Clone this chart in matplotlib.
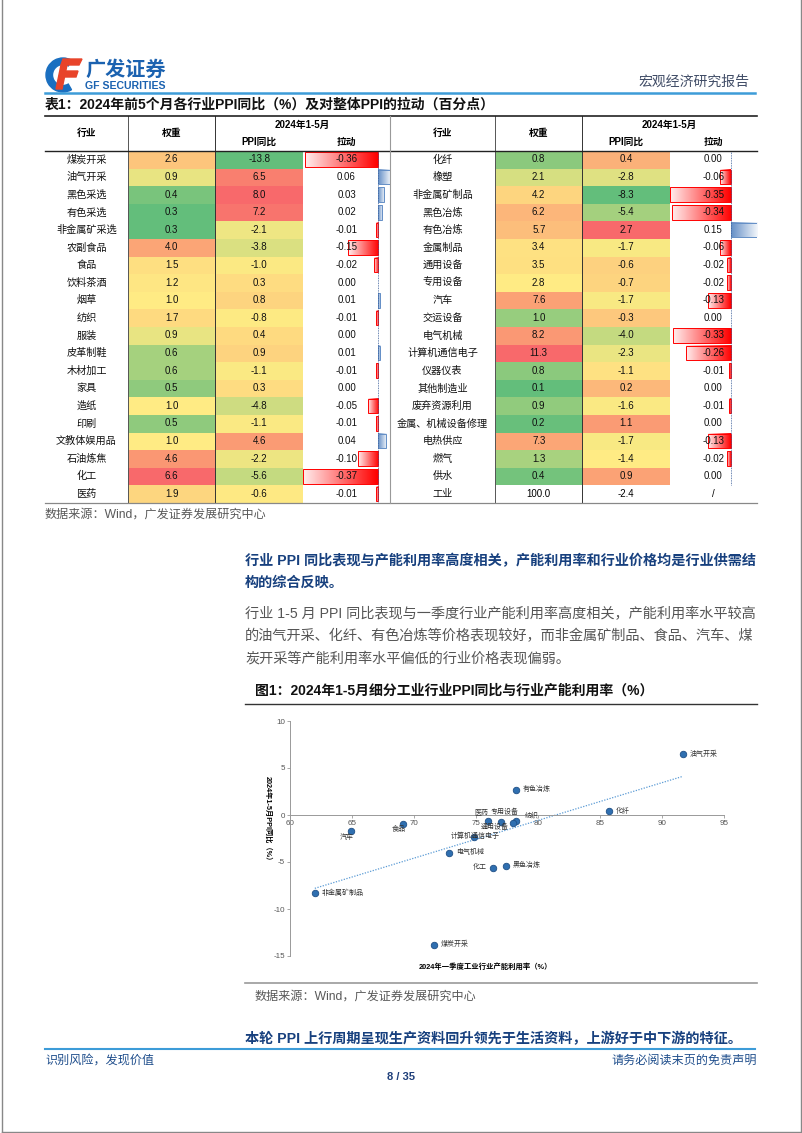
import numpy as np
from matplotlib import pyplot as plt
from matplotlib.patches import Wedge, Polygon, Rectangle

plt.rcParams['font.family'] = ['Liberation Sans', 'Noto Sans CJK SC']
plt.rcParams['axes.unicode_minus'] = False

W, H = 802, 1133

# 表1 左半
left_names = ['煤炭开采', '油气开采', '黑色采选', '有色采选', '非金属矿采选', '农副食品',
              '食品', '饮料茶酒', '烟草', '纺织', '服装', '皮革制鞋', '木材加工', '家具',
              '造纸', '印刷', '文教体娱用品', '石油炼焦', '化工', '医药']
left_weight = [2.6, 0.9, 0.4, 0.3, 0.3, 4.0, 1.5, 1.2, 1.0, 1.7, 0.9, 0.6, 0.6, 0.5,
               1.0, 0.5, 1.0, 4.6, 6.6, 1.9]
left_ppi = [-13.8, 6.5, 8.0, 7.2, -2.1, -3.8, -1.0, 0.3, 0.8, -0.8, 0.4, 0.9, -1.1, 0.3,
            -4.8, -1.1, 4.6, -2.2, -5.6, -0.6]
left_pull = [-0.36, 0.06, 0.03, 0.02, -0.01, -0.15, -0.02, 0.00, 0.01, -0.01, 0.00, 0.01,
             -0.01, 0.00, -0.05, -0.01, 0.04, -0.10, -0.37, -0.01]

# 表1 右半
right_names = ['化纤', '橡塑', '非金属矿制品', '黑色冶炼', '有色冶炼', '金属制品', '通用设备',
               '专用设备', '汽车', '交运设备', '电气机械', '计算机通信电子', '仪器仪表',
               '其他制造业', '废弃资源利用', '金属、机械设备修理', '电热供应', '燃气', '供水']
right_weight = [0.8, 2.1, 4.2, 6.2, 5.7, 3.4, 3.5, 2.8, 7.6, 1.0, 8.2, 11.3, 0.8, 0.1, 0.9,
                0.2, 7.3, 1.3, 0.4]
right_ppi = [0.4, -2.8, -8.3, -5.4, 2.7, -1.7, -0.6, -0.7, -1.7, -0.3, -4.0, -2.3, -1.1,
             0.2, -1.6, 1.1, -1.7, -1.4, 0.9]
right_pull = [0.00, -0.06, -0.35, -0.34, 0.15, -0.06, -0.02, -0.02, -0.13, 0.00, -0.33,
              -0.26, -0.01, 0.00, -0.01, 0.00, -0.13, -0.02, 0.00]
total_row = ('工业', 100.0, -2.4, '/')

# 图1 散点
scat_names = ['油气开采', '有色冶炼', '化纤', '汽车', '食品', '医药', '专用设备', '通用设备',
              '纺织', '计算机通信电子', '电气机械', '化工', '黑色冶炼', '非金属矿制品', '煤炭开采']
scat_util = [91.7, 78.2, 85.7, 64.9, 69.1, 76.0, 77.0, 78.2, 78.0, 74.8, 72.8, 76.4, 77.4,
             62.0, 71.6]
scat_ppi = [6.5, 2.7, 0.4, -1.7, -1.0, -0.6, -0.7, -0.6, -0.8, -2.3, -4.0, -5.6, -5.4,
            -8.3, -13.8]
# 标签偏移 (points) 与对齐
label_pos = [(5, 0, 'left'), (5, 0, 'left'), (5, 0, 'left'), (-3, -5, 'center'),
             (-3, -4, 'center'), (-5, 6, 'center'), (3, 7, 'center'), (-15, -5, 'center'),
             (8, 5, 'left'), (1, 0, 'center'), (5, 0, 'left'), (-5, 0, 'right'),
             (5, 0, 'left'), (5, 0, 'left'), (5, 0, 'left')]

GREEN = np.array([99, 190, 123]) / 255
YELLOW = np.array([255, 235, 132]) / 255
RED = np.array([248, 105, 107]) / 255
BAR_RED = np.array([1.0, 0.0, 0.0])
BAR_BLUE = np.array([99, 142, 198]) / 255

TOP, HEAD_BOTTOM, ROW_H, N_ROWS = 116, 150.7, 17.6, 20
BODY_BOTTOM = HEAD_BOTTOM + N_ROWS * ROW_H
BLUE_TEXT = '#17407e'


def frac(x0, y0, x1, y1):
    return [x0 / W, 1 - y1 / H, (x1 - x0) / W, (y1 - y0) / H]


def scale3(vals):
    vals = np.asarray(vals, float)
    lo, mid, hi = vals.min(), np.percentile(vals, 50), vals.max()
    out = []
    for v in vals:
        if v <= mid:
            t = (v - lo) / (mid - lo)
            out.append(GREEN + t * (YELLOW - GREEN))
        else:
            t = (v - mid) / (hi - mid)
            out.append(YELLOW + t * (RED - YELLOW))
    return np.array(out)


fig = plt.figure(figsize=(W / 100, H / 100), dpi=100)
page = fig.add_axes([0, 0, 1, 1], zorder=10)
page.set_xlim(0, W)
page.set_ylim(H, 0)
page.axis('off')


def draw_table(cols, names, weight, ppi, pull, total=None):
    colors = np.ones((N_ROWS, 2, 3))
    colors[:len(names), 0] = scale3(weight)
    colors[:len(names), 1] = scale3(ppi)
    ax_h = fig.add_axes(frac(cols[1], HEAD_BOTTOM, cols[3], BODY_BOTTOM))
    ax_h.imshow(colors, aspect='auto', interpolation='nearest',
                extent=(-0.5, 1.5, N_ROWS - 0.5, -0.5))
    for i, (w, p) in enumerate(zip(weight, ppi)):
        ax_h.text(0, i, f'{w:.1f}', ha='center', va='center', fontsize=7, color='#111')
        ax_h.text(1, i, f'{p:.1f}', ha='center', va='center', fontsize=7, color='#111')
    if total:
        ax_h.text(0, N_ROWS - 1, f'{total[1]:.1f}', ha='center', va='center', fontsize=7)
        ax_h.text(1, N_ROWS - 1, f'{total[2]:.1f}', ha='center', va='center', fontsize=7)
    ax_h.set_xlim(-0.5, 1.5)
    ax_h.set_ylim(N_ROWS - 0.5, -0.5)
    ax_h.axis('off')

    ax_b = fig.add_axes(frac(cols[3], HEAD_BOTTOM, cols[4], BODY_BOTTOM))
    t = np.linspace(0, 0.93, 64)[:, None]
    for i, v in enumerate(pull):
        if v != 0:
            base = BAR_RED if v < 0 else BAR_BLUE
            grad = base * (1 - t) + t
            ax_b.imshow(grad[None], aspect='auto', interpolation='bilinear',
                        extent=(0, v, i + 0.42, i - 0.42))
            ax_b.add_patch(Rectangle((0, i - 0.42), v, 0.84, fill=False, ec=base, lw=0.7))
        ax_b.text(0.5, i, f'{v:.2f}', transform=ax_b.get_yaxis_transform(),
                  ha='center', va='center', fontsize=7, color='#111', zorder=5)
    if total:
        ax_b.text(0.5, N_ROWS - 1, total[3], transform=ax_b.get_yaxis_transform(),
                  ha='center', va='center', fontsize=7)
    ax_b.plot([0, 0], [-0.5, len(pull) - 0.5], ls=(0, (1, 1)), color='#3b5f9a', lw=0.6)
    ax_b.set_xlim(min(pull), max(pull))
    ax_b.set_ylim(N_ROWS - 0.5, -0.5)
    ax_b.axis('off')

    all_names = names + ([total[0]] if total else [])
    for i, name in enumerate(all_names):
        page.text((cols[0] + cols[1]) / 2, HEAD_BOTTOM + (i + 0.5) * ROW_H, name,
                  ha='center', va='center', fontsize=7.3, color='#111')

    # 表头
    hy = (TOP + HEAD_BOTTOM) / 2
    page.text((cols[0] + cols[1]) / 2, hy, '行业', ha='center', va='center',
              fontsize=7, fontweight='bold')
    page.text((cols[1] + cols[2]) / 2, hy, '权重', ha='center', va='center',
              fontsize=7, fontweight='bold')
    page.text((cols[2] + cols[4]) / 2, 125, '2024年1-5月', ha='center', va='center',
              fontsize=7, fontweight='bold')
    page.text((cols[2] + cols[3]) / 2, 142, 'PPI同比', ha='center', va='center',
              fontsize=7, fontweight='bold')
    page.text((cols[3] + cols[4]) / 2, 142, '拉动', ha='center', va='center',
              fontsize=7, fontweight='bold')
    for x, c in [(cols[1], '#555'), (cols[2], '#333')]:
        page.plot([x, x], [TOP, BODY_BOTTOM], color=c, lw=0.7)


L_COLS = [45, 128, 215, 303, 390]
R_COLS = [390, 495, 582, 670, 757]
draw_table(L_COLS, left_names, left_weight, left_ppi, left_pull)
draw_table(R_COLS, right_names, right_weight, right_ppi, right_pull, total_row)

page.plot([45, 757], [TOP, TOP], color='#222', lw=1.2)
page.plot([45, 757], [HEAD_BOTTOM, HEAD_BOTTOM], color='#222', lw=1.0)
page.plot([45, 757], [BODY_BOTTOM, BODY_BOTTOM], color='#888', lw=0.9)
page.plot([390, 390], [TOP, BODY_BOTTOM], color='#999', lw=0.8)

# 页眉
page.add_patch(Wedge((63, 75), 17, 60, 300, width=6.5, color='#1a6fc0'))
page.add_patch(Polygon([(63, 59), (82, 59), (79, 65), (61, 65)], color='#e8442a'))
page.add_patch(Polygon([(61, 65), (67, 65), (62, 89), (56, 89)], color='#e8442a'))
page.add_patch(Polygon([(64, 71), (78, 71), (76, 77), (62, 77)], color='#e8442a'))
page.text(85, 70, '广发证券', fontsize=14.5, fontweight='bold', color='#1b62b0',
          ha='left', va='center')
page.text(85, 86, 'GF SECURITIES', fontsize=7.6, fontweight='bold', color='#1b62b0',
          ha='left', va='center')
page.text(749, 82, '宏观经济研究报告', fontsize=10, color='#404c66', ha='right', va='center')
page.plot([45, 755], [92.5, 92.5], color='#3d9cd8', lw=1.8)

page.text(45, 104.5, '表1：2024年前5个月各行业PPI同比（%）及对整体PPI的拉动（百分点）',
          fontsize=10, fontweight='bold', ha='left', va='center', color='#111')
page.text(45, 515, '数据来源：Wind，广发证券发展研究中心', fontsize=8.7, color='#595959',
          ha='left', va='center')

# 正文
page.text(245, 561, '行业 PPI 同比表现与产能利用率高度相关，产能利用率和行业价格均是行业供需结',
          fontsize=10.2, fontweight='bold', color=BLUE_TEXT, ha='left', va='center')
page.text(245, 583, '构的综合反映。', fontsize=10.2, fontweight='bold', color=BLUE_TEXT,
          ha='left', va='center')
body = ['行业 1-5 月 PPI 同比表现与一季度行业产能利用率高度相关，产能利用率水平较高',
        '的油气开采、化纤、有色冶炼等价格表现较好，而非金属矿制品、食品、汽车、煤',
        '炭开采等产能利用率水平偏低的行业价格表现偏弱。']
for k, line in enumerate(body):
    page.text(245, 614 + k * 22.5, line, fontsize=10.2, color='#555', ha='left', va='center')

page.text(255, 691, '图1：2024年1-5月细分工业行业PPI同比与行业产能利用率（%）', fontsize=10,
          fontweight='bold', ha='left', va='center', color='#111')
page.plot([245, 757], [704, 704], color='#333', lw=1.0)

# 图1
ax = fig.add_axes(frac(290, 721, 724, 956))
ax.set_facecolor('none')
ax.scatter(scat_util, scat_ppi, s=22, color='#2f6fb0', edgecolors='#1f4f86',
           linewidths=0.6, zorder=3)
k, b = np.polyfit(scat_util, scat_ppi, 1)
xs = np.array([min(scat_util), max(scat_util)])
ax.plot(xs, k * xs + b, ls=(0, (1, 1.2)), color='#5b9bd5', lw=0.9)
for name, x, y, (dx, dy, ha) in zip(scat_names, scat_util, scat_ppi, label_pos):
    ax.annotate(name, (x, y), xytext=(dx, dy), textcoords='offset points',
                ha=ha, va='center', fontsize=5, color='#333')
ax.set_xlim(60, 95)
ax.set_ylim(-15, 10)
ax.set_xticks(range(60, 96, 5))
ax.set_yticks(range(-15, 11, 5))
ax.spines[['top', 'right']].set_visible(False)
ax.spines['bottom'].set_position(('data', 0))
for s in ['left', 'bottom']:
    ax.spines[s].set_color('#999')
    ax.spines[s].set_linewidth(0.7)
ax.tick_params(axis='both', labelsize=5.8, labelcolor='#555', color='#999',
               length=2, width=0.6, pad=1.5)
page.text(268, 820, '2024年1-5月PPI同比（%）', rotation=270, fontsize=5.2,
          fontweight='bold', ha='center', va='center')
page.text(485, 967, '2024年一季度工业行业产能利用率（%）', fontsize=5.3,
          fontweight='bold', ha='center', va='center')

page.plot([245, 757], [983, 983], color='#999', lw=1.2)
page.text(255, 997, '数据来源：Wind，广发证券发展研究中心', fontsize=8.7, color='#595959',
          ha='left', va='center')
page.text(245, 1039, '本轮 PPI 上行周期呈现生产资料回升领先于生活资料，上游好于中下游的特征。',
          fontsize=10.2, fontweight='bold', color=BLUE_TEXT, ha='left', va='center')

# 页脚
page.plot([45, 755], [1049, 1049], color='#3d9cd8', lw=1.5)
page.text(45, 1061, '识别风险，发现价值', fontsize=8.7, color='#1f4e8c', ha='left', va='center')
page.text(757, 1061, '请务必阅读末页的免责声明', fontsize=8.7, color='#1f4e8c',
          ha='right', va='center')
page.text(401, 1077, '8 / 35', fontsize=8, fontweight='bold', color='#1f3f7a',
          ha='center', va='center')

page.plot([1.5, 1.5], [0, 1131.5], color='#888', lw=1)
page.plot([800.5, 800.5], [0, 1131.5], color='#888', lw=1)
page.plot([1.5, 800.5], [1131.5, 1131.5], color='#888', lw=1)

fig.savefig('out.png', dpi=100)
